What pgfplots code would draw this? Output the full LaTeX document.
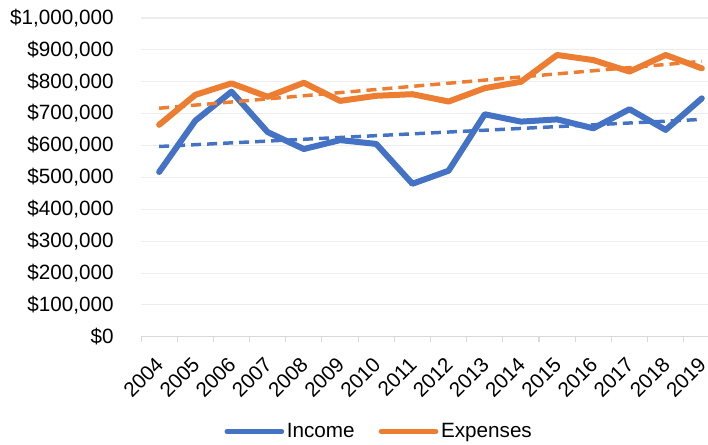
\documentclass[border=0pt]{standalone}
\usepackage{pgfplots}
\pgfplotsset{compat=1.18}
\usepackage{fontspec}
\setmainfont{Liberation Sans}

\definecolor{income}{HTML}{4472C4}
\definecolor{expenses}{HTML}{ED7D31}
\definecolor{gridc}{HTML}{EDEDED}
\definecolor{axisc}{HTML}{D9D9D9}

\begin{document}
\begin{tikzpicture}
\begin{axis}[
    name=ax,
    scale only axis,
    width=425pt, height=239pt,
    xmin=2003.5, xmax=2019.17,
    ymin=0, ymax=1000000,
    font=\fontsize{15.5}{18}\selectfont,
    /pgf/number format/assume math mode=true,
    xtick={2004,2005,2006,2007,2008,2009,2010,2011,2012,2013,2014,2015,2016,2017,2018,2019},
    minor xtick={2003.5,2004.5,...,2019.5},
    ytick={0,100000,200000,300000,400000,500000,600000,700000,800000,900000,1000000},
    scaled y ticks=false,
    yticklabel={\$\pgfmathprintnumber[fixed,1000 sep={,}]{\tick}},
    xticklabel style={/pgf/number format/1000 sep=, rotate=45, anchor=east, xshift=-9pt, yshift=-13pt},
    yticklabel style={xshift=-17pt},
    major tick length=0pt,
    minor tick length=4pt,
    tick align=outside,
    minor x tick style={draw=axisc, line width=0.8pt},
    ymajorgrids,
    grid style={draw=gridc, line width=0.8pt},
    axis lines*=left,
    y axis line style={draw=none},
    x axis line style={draw=axisc, line width=0.8pt},
    clip=false,
    legend columns=2,
    legend style={draw=none, fill=none, at={(0.4206,0)}, anchor=center, yshift=-71pt,
        /tikz/every even column/.append style={column sep=16pt}},
    legend image code/.code={\draw[#1, line width=3.75pt, line cap=round] (0pt,0pt) -- (41pt,0pt);},
]
\addplot[income, line width=4.5pt, line join=round, line cap=round] coordinates {
    (2004,517000) (2005,678000) (2006,769000) (2007,642000)
    (2008,589000) (2009,617000) (2010,605000) (2011,480000)
    (2012,521000) (2013,698000) (2014,675000) (2015,682000)
    (2016,654000) (2017,714000) (2018,649000) (2019,748000)
};
\addlegendentry{Income}
\addplot[expenses, line width=4.5pt, line join=round, line cap=round] coordinates {
    (2004,665000) (2005,759000) (2006,795000) (2007,753000)
    (2008,797000) (2009,740000) (2010,756000) (2011,761000)
    (2012,738000) (2013,780000) (2014,800000) (2015,884000)
    (2016,868000) (2017,832000) (2018,884000) (2019,842000)
};
\addlegendentry{Expenses}
% linear trend lines
\addplot[income, line width=2.6pt, dash pattern=on 7.5pt off 4.5pt, forget plot]
    coordinates {(2004,597000) (2019,682000)};
\addplot[expenses, line width=2.6pt, dash pattern=on 7.5pt off 4.5pt, forget plot]
    coordinates {(2004,717000) (2019,864000)};
\end{axis}
\pgfresetboundingbox
\path ([shift={(-105.75pt,-81pt)}]ax.south west) rectangle ([shift={(0pt,13.5pt)}]ax.north east);
\end{tikzpicture}
\end{document}
